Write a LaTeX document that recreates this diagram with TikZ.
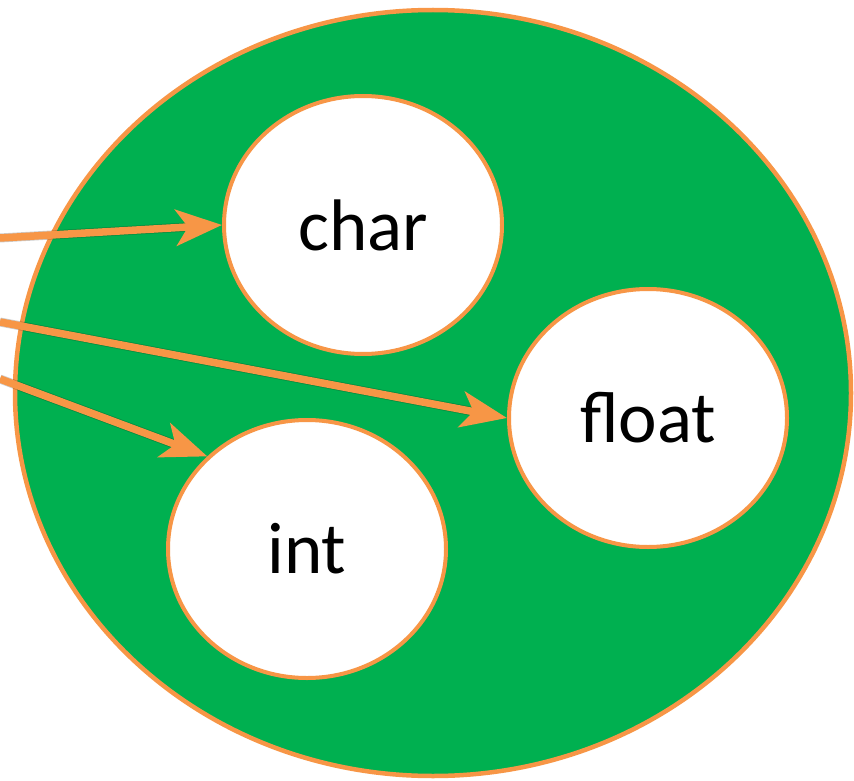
\documentclass[tikz,border=0pt]{standalone}
\usepackage{fontspec}
\setmainfont{Carlito}
\usetikzlibrary{arrows.meta,shapes.geometric}
\definecolor{bggreen}{RGB}{0,176,80}
\definecolor{lineorange}{RGB}{247,150,70}
\begin{document}
\begin{tikzpicture}[x=1pt,y=-1pt,
  setshape/.style={ellipse, draw=lineorange, line width=4.5pt, fill=bggreen,
    minimum width=836pt, minimum height=766pt, inner sep=0pt},
  elem/.style={ellipse, draw=lineorange, line width=4pt, fill=white,
    minimum width=278pt, minimum height=258pt, inner sep=0pt,
    font=\fontsize{73}{82}\selectfont},
  link/.style={draw=lineorange, line width=7.5pt,
    -{Stealth[length=46pt,width=36pt,inset=12pt]}},
  shadowline/.style={draw=black, opacity=0.2, line width=9pt, shorten >=30pt}]
\useasboundingbox (0,0) rectangle (854,781);
\clip (0,0) rectangle (854,781);
\node[setshape] (all) at (433,393) {};
\node[elem] (char) at (363,225) {char};
\node[elem] (float) at (648,418) {float};
\node[elem] (int) at (307,549) {int};
\coordinate (s1) at (0,238);
\coordinate (s2) at (0,322);
\coordinate (s3) at (0,379);
\begin{scope}[shift={(2pt,-5pt)}]
\draw[shadowline] (s1) -- (char.west);
\draw[shadowline] (s2) -- (float.west);
\draw[shadowline] (s3) -- (int.north west);
\end{scope}
\draw[link] (s1) -- (char.west);
\draw[link] (s2) -- (float.west);
\draw[link] (s3) -- (int.north west);
\end{tikzpicture}
\end{document}
